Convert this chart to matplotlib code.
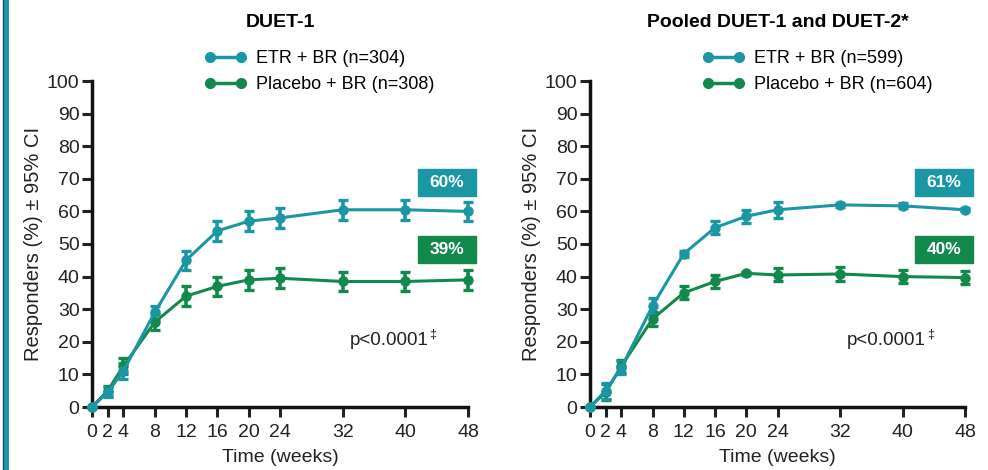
"""DUET-1 en gepoolde DUET-1/DUET-2: responders over tijd met 95% BI."""

import matplotlib.pyplot as plt
from matplotlib.lines import Line2D
from matplotlib.patches import Rectangle

plt.rcParams["font.family"] = ["Liberation Sans", "DejaVu Sans"]

TEAL = "#1a96a4"
GREEN = "#12894a"

# ── Data ──────────────────────────────────────────────────────────────────────
weeks = [0, 2, 4, 8, 12, 16, 20, 24, 32, 40, 48]

duet1_etr = [0, 4.5, 11, 29, 45, 54, 57, 58, 60.5, 60.5, 60]
duet1_etr_ci = [0, 1.5, 2.5, 2, 3, 3, 3, 3, 3, 3, 3]
duet1_pla = [0, 5, 12.5, 26, 34, 37, 39, 39.5, 38.5, 38.5, 39]
duet1_pla_ci = [0, 1.5, 2.5, 2.5, 3, 3, 3, 3, 3, 3, 3]

pooled_etr = [0, 5, 12, 31, 47, 55, 58.5, 60.5, 62, 61.7, 60.5]
pooled_etr_ci = [0, 2.5, 2, 2.5, 1, 2, 2, 2.5, 0.5, 0.8, 0.5]
pooled_pla = [0, 4.5, 12.5, 27, 35, 38.5, 41, 40.5, 40.8, 40, 39.7]
pooled_pla_ci = [0, 2.5, 2, 2, 2, 2, 0.5, 2, 2, 2, 2]

panels = [
    dict(title="DUET-1", etr=duet1_etr, etr_ci=duet1_etr_ci,
         pla=duet1_pla, pla_ci=duet1_pla_ci,
         labels=["ETR + BR (n=304)", "Placebo + BR (n=308)"],
         final=["60%", "39%"]),
    dict(title="Pooled DUET-1 and DUET-2*", etr=pooled_etr, etr_ci=pooled_etr_ci,
         pla=pooled_pla, pla_ci=pooled_pla_ci,
         labels=["ETR + BR (n=599)", "Placebo + BR (n=604)"],
         final=["61%", "40%"]),
]

# ── Figuur ────────────────────────────────────────────────────────────────────
fig = plt.figure(figsize=(9.88, 4.70), dpi=100)

# rand links
fig.add_artist(Line2D([0.006, 0.006], [0.0, 1.0], color=TEAL, lw=3.5))
fig.add_artist(Line2D([0.0035, 0.0035], [0.0, 1.0], color="#1c3f8c", lw=1))

axes_pos = [(92, 468), (590, 965)]
for (x0, x1), p in zip(axes_pos, panels):
    ax = fig.add_axes([x0 / 988, 63 / 470, (x1 - x0) / 988, 326 / 470])

    for vals, ci, col in [(p["pla"], p["pla_ci"], GREEN), (p["etr"], p["etr_ci"], TEAL)]:
        ax.errorbar(weeks, vals, yerr=ci, color=col, lw=2.2, marker="o", ms=6.5,
                    capsize=3.8, capthick=2.4, elinewidth=2.6, clip_on=False, zorder=3)

    ax.set_xlim(0, 48)
    ax.set_ylim(0, 100)
    ax.set_xticks(weeks)
    ax.set_yticks(range(0, 101, 10))
    ax.tick_params(direction="out", length=7, width=2.2, labelsize=14, pad=2,
                   colors="#222222")
    ax.tick_params(axis="x", pad=5)
    for s in ["top", "right"]:
        ax.spines[s].set_visible(False)
    for s in ["left", "bottom"]:
        ax.spines[s].set_linewidth(2.5)
        ax.spines[s].set_color("#111111")
    ax.set_xlabel("Time (weeks)", fontsize=14, labelpad=6, color="#222222")
    ax.set_ylabel("Responders (%) ± 95% CI", fontsize=14.5, labelpad=3, color="#222222")

    ax.set_title(p["title"], fontsize=14, fontweight="bold", pad=0, y=1.165)

    # eindwaarden in gekleurde vakken
    for lab, col, yb in [(p["final"][0], TEAL, 64.7), (p["final"][1], GREEN, 44.2)]:
        ax.add_patch(Rectangle((41.6, yb), 7.4, 8.2, color=col, clip_on=False, zorder=4))
        ax.text(45.3, yb + 4.1, lab, color="white", fontsize=12.5, fontweight="bold",
                ha="center", va="center", zorder=5)

    ax.text(43.0, 20.5, "p<0.0001", fontsize=13.5, ha="right", va="center",
            color="#222222")
    ax.text(43.1, 22.3, "\u2021", fontsize=9, ha="left", va="center",
            color="#222222")

    handles = [
        Line2D([], [], color=TEAL, lw=2.5, marker="o", ms=7),
        Line2D([], [], color=GREEN, lw=2.5, marker="o", ms=7),
    ]
    ax.legend(handles, p["labels"], loc="upper left", numpoints=2,
              bbox_to_anchor=((x0 + 113) / 988, 1 - 50 / 470),
              bbox_transform=fig.transFigure, frameon=False, fontsize=13,
              borderpad=0, borderaxespad=0, handlelength=2.3, handletextpad=0.5,
              labelspacing=0.5)

fig.savefig("out.png", dpi=100)
plt.close(fig)
